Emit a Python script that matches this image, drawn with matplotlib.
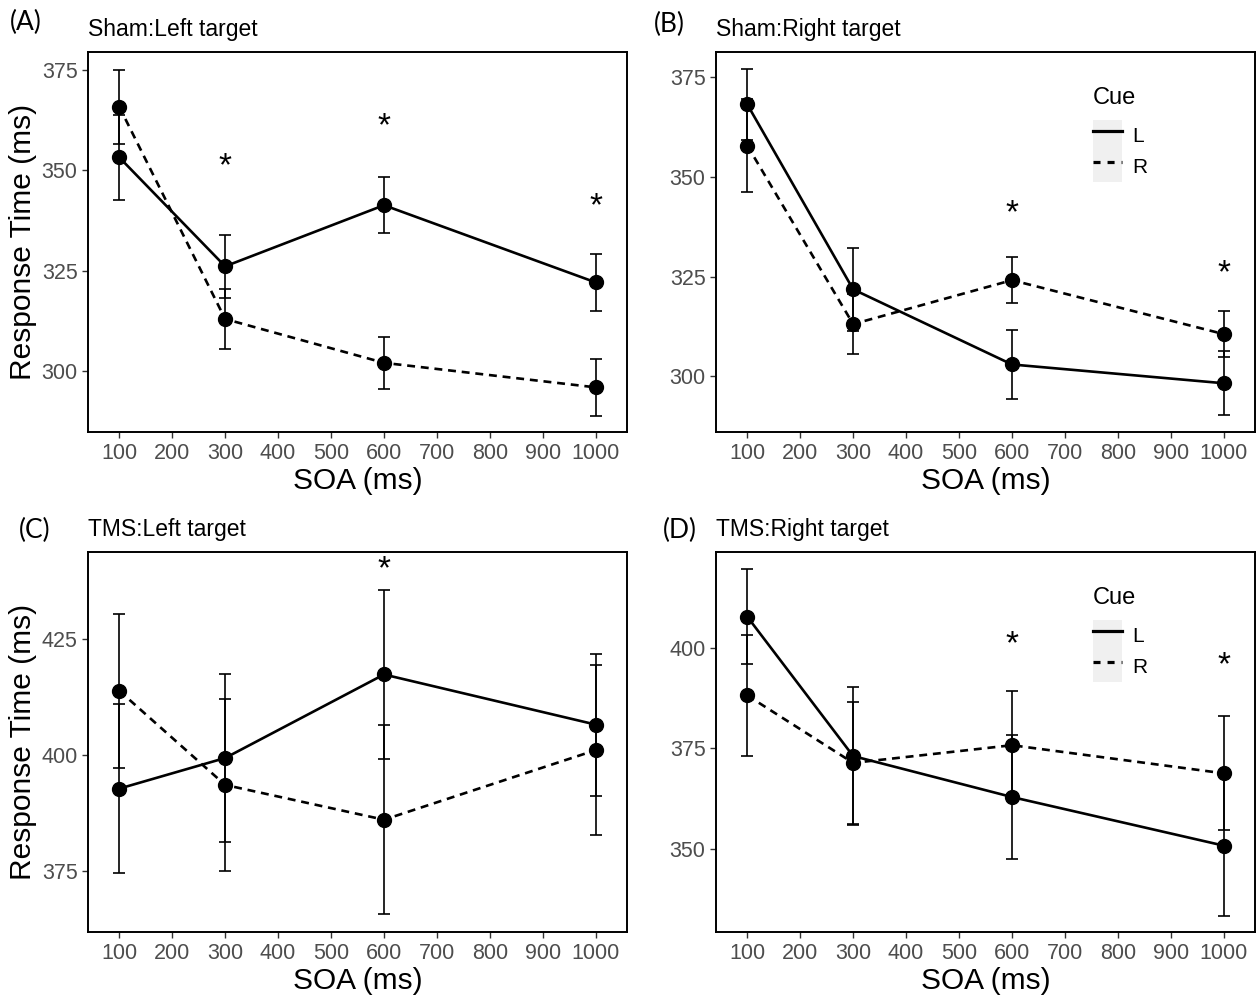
import matplotlib
matplotlib.use("Agg")
import matplotlib.pyplot as plt
from matplotlib.lines import Line2D
from matplotlib.patches import Rectangle
from matplotlib.legend_handler import HandlerLine2D

plt.rcParams['font.family'] = ['Liberation Sans', 'DejaVu Sans']

soa = [100, 300, 600, 1000]

# means and error bar half-widths, cue L (solid) and cue R (dashed)
sham_left_L = [353.2, 326.1, 341.3, 322.1]
sham_left_L_err = [10.5, 7.8, 7.0, 7.1]
sham_left_R = [365.8, 313.0, 302.1, 296.0]
sham_left_R_err = [9.2, 7.5, 6.4, 7.0]

sham_right_L = [368.1, 321.8, 303.0, 298.3]
sham_right_L_err = [8.8, 10.3, 8.6, 8.0]
sham_right_R = [357.8, 313.1, 324.1, 310.6]
sham_right_R_err = [11.7, 7.6, 5.8, 5.7]

tms_left_L = [392.8, 399.4, 417.4, 406.6]
tms_left_L_err = [18.2, 18.2, 18.2, 15.3]
tms_left_R = [413.9, 393.6, 386.1, 401.1]
tms_left_R_err = [16.6, 18.6, 20.4, 18.3]

tms_right_L = [407.8, 373.1, 362.9, 350.8]
tms_right_L_err = [11.8, 17.2, 15.4, 17.4]
tms_right_R = [388.2, 371.4, 375.8, 368.8]
tms_right_R_err = [15.1, 15.2, 13.4, 14.2]

# significance markers
sham_left_star_x = [300, 600, 1000]
sham_left_star_y = [351.7, 361.7, 341.8]
sham_right_star_x = [600, 1000]
sham_right_star_y = [341.6, 326.7]
tms_left_star_x = [600]
tms_left_star_y = [440.8]
tms_right_star_x = [600, 1000]
tms_right_star_y = [401.6, 396.5]

panels = [
    ("(A)", "Sham:Left target", sham_left_L, sham_left_L_err, sham_left_R, sham_left_R_err,
     sham_left_star_x, sham_left_star_y, (284.9, 379.4), [300, 325, 350, 375], True, False),
    ("(B)", "Sham:Right target", sham_right_L, sham_right_L_err, sham_right_R, sham_right_R_err,
     sham_right_star_x, sham_right_star_y, (286.1, 381.2), [300, 325, 350, 375], False, True),
    ("(C)", "TMS:Left target", tms_left_L, tms_left_L_err, tms_left_R, tms_left_R_err,
     tms_left_star_x, tms_left_star_y, (361.9, 443.8), [375, 400, 425], True, False),
    ("(D)", "TMS:Right target", tms_right_L, tms_right_L_err, tms_right_R, tms_right_R_err,
     tms_right_star_x, tms_right_star_y, (329.3, 423.9), [350, 375, 400], False, True),
]

W, H = 1260, 997
boxes = [(88, 52), (716, 52), (88, 552), (716, 552)]
letter_pos = [(10, 22), (654, 24), (19, 530), (663, 530)]
bw, bh = 539, 380

dash = (0, (3, 2.2))


class KeyHandler(HandlerLine2D):
    def create_artists(self, legend, orig_handle, xdescent, ydescent, width, height, fontsize, trans):
        bg = Rectangle((-xdescent, -ydescent), width, height, facecolor='#F0F0F0',
                       edgecolor='none', transform=trans)
        arts = super().create_artists(legend, orig_handle, xdescent, ydescent, width, height, fontsize, trans)
        return [bg] + list(arts)


fig = plt.figure(figsize=(W / 100, H / 100), dpi=100)

for (letter, title, yl, el, yr, er, sx, sy, ylim, yticks, ylab, leg), (px, py), (lx, ly) in zip(panels, boxes, letter_pos):
    ax = fig.add_axes([px / W, 1 - (py + bh) / H, bw / W, bh / H])
    ax.errorbar(soa, yl, yerr=el, fmt='none', ecolor='black', elinewidth=1.2, capsize=4.5, capthick=1.2)
    ax.errorbar(soa, yr, yerr=er, fmt='none', ecolor='black', elinewidth=1.2, capsize=4.5, capthick=1.2)
    ax.plot(soa, yl, color='black', lw=1.9, marker='o', ms=10)
    ax.plot(soa, yr, color='black', lw=1.9, ls=dash, marker='o', ms=10)
    for x, y in zip(sx, sy):
        ax.text(x, y, "*", fontsize=24, ha='center', va='center_baseline')
    ax.set_xlim(41, 1059)
    ax.set_ylim(*ylim)
    ax.set_xticks(range(100, 1001, 100))
    ax.set_yticks(yticks)
    ax.tick_params(labelsize=15.5, labelcolor='#4D4D4D', color='#333333', length=4, width=1)
    ax.tick_params(axis='x', pad=4)
    for s in ax.spines.values():
        s.set_linewidth(1.4)
    ax.set_xlabel("SOA (ms)", fontsize=21.5, labelpad=2)
    if ylab:
        ax.set_ylabel("Response Time (ms)", fontsize=21.5, labelpad=3)
    fig.text(px / W, 1 - (py - 16) / H, title, fontsize=16.5, ha='left', va='baseline')
    fig.text(lx / W, 1 - ly / H, letter, fontsize=19, family=['Lato', 'DejaVu Sans'],
             ha='left', va='center')
    if leg:
        handles = [Line2D([], [], color='black', lw=2.3),
                   Line2D([], [], color='black', lw=2.3, ls=(0, (2.2, 2.2)))]
        leg_obj = ax.legend(handles, ["L", "R"], title="Cue", loc='upper left', bbox_to_anchor=(0.684, 0.93),
                            frameon=False, fontsize=15, title_fontsize=17, alignment='left',
                            handlelength=1.4, handleheight=1.9, labelspacing=0, handletextpad=0.5,
                            borderaxespad=0, handler_map={Line2D: KeyHandler()})
        leg_obj._legend_box.sep = 8

fig.savefig("out.png", dpi=100)
